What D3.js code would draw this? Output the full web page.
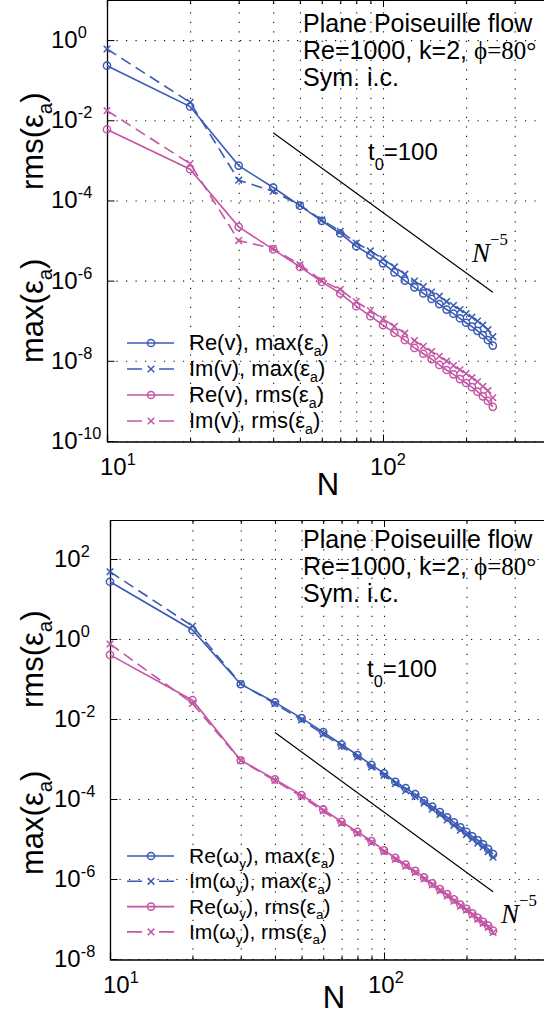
<!DOCTYPE html>
<html><head><meta charset="utf-8">
<script src="https://cdn.jsdelivr.net/npm/d3@7"></script>
<style>body{margin:0;background:#fff;overflow:hidden} svg{display:block}</style>
</head><body>
<svg id="c" width="544" height="1016"></svg>
<script>
// ---------- data ----------
const N = [10,20,30,40,50,60,70,80,90,100,110,120,130,140,150,160,170,180,190,200,210,220,230,240,250];

// top panel: v
const reV_max = [2.3e-1,2.2e-2,7.4e-4,2.1e-4,7.4e-5,3.1e-5,1.5e-5,7.2e-6,4.4e-6,2.7e-6,1.6e-6,1.0e-6,6.8e-7,4.8e-7,3.5e-7,2.6e-7,1.9e-7,1.5e-7,1.15e-7,8.9e-8,7.1e-8,5.6e-8,4.4e-8,3.3e-8,2.4e-8];
const imV_max = [6.0e-1,2.8e-2,3.2e-4,1.7e-4,7.6e-5,3.3e-5,1.7e-5,8.7e-6,5.5e-6,3.5e-6,2.2e-6,1.45e-6,9.8e-7,7.1e-7,5.2e-7,4.1e-7,3.0e-7,2.4e-7,1.9e-7,1.5e-7,1.23e-7,9.8e-8,7.8e-8,6.0e-8,4.0e-8];
const reV_rms = [5.9e-3,6.0e-4,2.2e-5,6.0e-6,2.2e-6,9.3e-7,4.8e-7,2.3e-7,1.3e-7,7.8e-8,5.0e-8,3.3e-8,2.1e-8,1.5e-8,1.1e-8,7.9e-9,5.9e-9,4.6e-9,3.5e-9,2.8e-9,2.2e-9,1.7e-9,1.3e-9,1.0e-9,7.1e-10];
const imV_rms = [1.74e-2,8.3e-4,1.0e-5,6.3e-6,2.5e-6,1.0e-6,6.0e-7,3.0e-7,1.8e-7,1.1e-7,7.2e-8,4.9e-8,3.2e-8,2.3e-8,1.7e-8,1.3e-8,9.8e-9,7.6e-9,6.0e-9,4.8e-9,3.8e-9,3.0e-9,2.3e-9,1.8e-9,1.2e-9];

// bottom panel: omega_y
const reW_max = [27,1.68,7.4e-2,2.6e-2,1.05e-2,4.7e-3,2.3e-3,1.26e-3,7.1e-4,4.4e-4,2.7e-4,1.86e-4,1.32e-4,9.1e-5,6.5e-5,4.7e-5,3.5e-5,2.6e-5,1.95e-5,1.5e-5,1.17e-5,9.3e-6,7.4e-6,5.6e-6,4.2e-6];
const imW_max = [48,2.1,7.6e-2,2.4e-2,9.5e-3,4.2e-3,2.1e-3,1.12e-3,6.3e-4,3.9e-4,2.4e-4,1.62e-4,1.15e-4,7.9e-5,5.6e-5,4.1e-5,3.0e-5,2.2e-5,1.66e-5,1.29e-5,1.0e-5,7.9e-6,6.3e-6,4.8e-6,3.5e-6];
const reW_rms = [0.40,2.95e-2,9.3e-4,3.1e-4,1.26e-4,5.5e-5,2.7e-5,1.5e-5,8.9e-6,5.2e-6,3.4e-6,2.3e-6,1.6e-6,1.1e-6,7.8e-7,5.6e-7,4.2e-7,3.1e-7,2.3e-7,1.8e-7,1.38e-7,1.07e-7,8.5e-8,6.8e-8,5.1e-8];
const imW_rms = [0.75,2.45e-2,9.1e-4,2.9e-4,1.15e-4,5.0e-5,2.45e-5,1.38e-5,8.1e-6,4.8e-6,3.1e-6,2.1e-6,1.45e-6,1.0e-6,7.1e-7,5.1e-7,3.8e-7,2.8e-7,2.1e-7,1.66e-7,1.26e-7,9.8e-8,7.8e-8,6.2e-8,4.6e-8];

// N^-5 reference lines
const refN = [40, 250];
const refTop = [4.9e-3, 5.1e-7];
const refBot = [4.6e-3, 4.8e-7];

// ticks
const xMajor = [10, 100];
const xMajorExp = ["1", "2"];
const xMinor = [20,30,40,50,60,70,80,90,200,300];
const topYTicks = [1e0,1e-2,1e-4,1e-6,1e-8,1e-10];
const topYExp = ["0","-2","-4","-6","-8","-10"];
const botYTicks = [1e2,1e0,1e-2,1e-4,1e-6,1e-8];
const botYExp = ["2","0","-2","-4","-6","-8"];

// ---------- style ----------
const SANS = "'Liberation Sans', Arial, Helvetica, sans-serif";
const SERIF = "'Liberation Serif', 'DejaVu Serif', 'Times New Roman', serif";
const BLUE = "#3a5ab3";
const PINK = "#c355a5";

const svg = d3.select("#c");

function rich(text, parts, fs) {
  let shift = 0;
  parts.forEach(p => {
    const t = text.append("tspan").text(p.t);
    const small = p.s === "sub" || p.s === "sup";
    const target = p.s === "sub" ? fs * (p.d || 0.3) : p.s === "sup" ? -fs * (p.d || 0.42) : 0;
    if (target !== shift) t.attr("dy", target - shift);
    shift = target;
    if (small) t.attr("font-size", fs * (p.k || 0.68));
    if (p.f) t.attr("font-family", p.f);
    if (p.i) t.attr("font-style", "italic");
    if (p.dx) t.attr("dx", p.dx);
  });
}

function panel(cfg) {
  const g = svg.append("g");
  const xr = cfg.x0 + cfg.dec * Math.log10(40);
  const x = d3.scaleLog().domain([10, 400]).range([cfg.x0, xr]);
  const y = d3.scaleLog().domain(cfg.yDomain).range([cfg.yBot, cfg.yTop]);
  const H = cfg.yBot - cfg.yTop;

  // grid (dotted)
  g.append("g").attr("transform", `translate(0,${cfg.yBot})`)
    .call(d3.axisBottom(x).tickValues(xMinor.concat([100])).tickSize(-H).tickFormat(""))
    .call(s => s.select(".domain").remove())
    .call(s => s.selectAll("line").attr("stroke", "#111").attr("stroke-dasharray", "1.2,8.3").attr("stroke-width", 1.1));
  g.append("g").attr("transform", `translate(${cfg.x0},0)`)
    .call(d3.axisLeft(y).tickValues(cfg.yTicks).tickSize(-(560 - cfg.x0)).tickFormat(""))
    .call(s => s.select(".domain").remove())
    .call(s => s.selectAll("line").attr("stroke", "#111").attr("stroke-dasharray", "1.2,8.3").attr("stroke-width", 1.1));

  // axes: bottom major/minor ticks (inward)
  g.append("g").attr("transform", `translate(0,${cfg.yBot + 0.5})`)
    .call(d3.axisBottom(x).tickValues(xMajor).tickSize(-7).tickFormat(""))
    .call(s => s.select(".domain").attr("stroke", "#000").attr("stroke-width", 1.3))
    .call(s => s.selectAll("line").attr("stroke", "#000"));
  g.append("g").attr("transform", `translate(0,${cfg.yBot + 0.5})`)
    .call(d3.axisBottom(x).tickValues(xMinor).tickSize(-4).tickFormat(""))
    .call(s => s.select(".domain").remove())
    .call(s => s.selectAll("line").attr("stroke", "#000"));
  // top border with ticks
  g.append("g").attr("transform", `translate(0,${cfg.topLine})`)
    .call(d3.axisTop(x).tickValues(xMajor).tickSize(-7).tickFormat(""))
    .call(s => s.select(".domain").attr("stroke", "#000").attr("stroke-width", 1.2))
    .call(s => s.selectAll("line").attr("stroke", "#000"));
  g.append("g").attr("transform", `translate(0,${cfg.topLine})`)
    .call(d3.axisTop(x).tickValues(xMinor).tickSize(-4).tickFormat(""))
    .call(s => s.select(".domain").remove())
    .call(s => s.selectAll("line").attr("stroke", "#000"));
  // left axis
  g.append("g").attr("transform", `translate(${cfg.x0 + 0.5},0)`)
    .call(d3.axisLeft(y).tickValues(cfg.yTicks).tickSize(-7).tickFormat(""))
    .call(s => s.select(".domain").attr("stroke", "#000").attr("stroke-width", 1.3).attr("d", `M0,${cfg.topLine}V${cfg.yBot + 0.5}`))
    .call(s => s.selectAll("line").attr("stroke", "#000"));

  // x tick labels
  xMajor.forEach((v, i) => {
    const t = g.append("text").attr("x", x(v) + cfg.xLabDx[i]).attr("y", cfg.yBot + 34)
      .attr("font-family", SANS).attr("font-size", 24).attr("text-anchor", "start");
    rich(t, [{t: "10"}, {t: xMajorExp[i], s: "sup", d: 0.42, k: 0.68}], 24);
  });
  // y tick labels
  cfg.yTicks.forEach((v, i) => {
    const t = g.append("text").attr("x", cfg.x0 - 56).attr("y", y(v) + 8)
      .attr("font-family", SANS).attr("font-size", 24);
    rich(t, [{t: "10"}, {t: cfg.yExp[i], s: "sup", d: 0.42, k: 0.68}], 24);
  });

  // axis labels
  g.append("text").attr("x", cfg.nX).attr("y", cfg.nY).attr("text-anchor", "middle")
    .attr("font-family", SANS).attr("font-size", 31).text("N");
  cfg.yLabels.forEach(l => {
    const t = g.append("text").attr("transform", `translate(${l[1]},${l[2]}) rotate(-90)`)
      .attr("font-family", SANS).attr("font-size", 31);
    rich(t, [{t: l[0] + "(ε"}, {t: "a", s: "sub", d: 0.28, k: 0.66}, {t: ")"}], 31);
  });

  // N^-5 reference line
  g.append("path").datum(refN.map((n, i) => [n, cfg.ref[i]]))
    .attr("d", d3.line().x(d => x(d[0])).y(d => y(d[1])))
    .attr("fill", "none").attr("stroke", "#000").attr("stroke-width", 1.2);

  // series
  cfg.series.forEach(s => {
    const pts = N.map((n, i) => [n, s.v[i]]);
    g.append("path").datum(pts)
      .attr("d", d3.line().x(d => x(d[0])).y(d => y(d[1])))
      .attr("fill", "none").attr("stroke", s.c).attr("stroke-width", 1.6)
      .attr("stroke-dasharray", s.dash ? "11,6" : null);
    const m = g.append("g");
    pts.forEach(d => drawMarker(m, x(d[0]), y(d[1]), s.m, s.c));
  });

  // legend (no box)
  cfg.series.forEach((s, i) => {
    const ly = cfg.legY + i * cfg.legDy;
    g.append("line").attr("x1", 127).attr("x2", 174).attr("y1", ly).attr("y2", ly)
      .attr("stroke", s.c).attr("stroke-width", 1.6)
      .attr("stroke-dasharray", s.dash ? "15,17" : null);
    drawMarker(g, 151, ly, s.m, s.c);
    const t = g.append("text").attr("x", 189).attr("y", ly + 7)
      .attr("font-family", SANS).attr("font-size", cfg.legFs);
    rich(t, s.label, cfg.legFs);
  });

  // annotation text
  cfg.title.forEach((line, i) => {
    const t = g.append("text").attr("x", 303).attr("y", cfg.titleY + i * 27)
      .attr("font-family", SANS).attr("font-size", 25);
    rich(t, line, 25);
  });
  const t0 = g.append("text").attr("x", cfg.t0[0]).attr("y", cfg.t0[1])
    .attr("font-family", SANS).attr("font-size", 24);
  rich(t0, [{t: "t"}, {t: "0", s: "sub", d: 0.4, k: 0.68}, {t: "=100"}], 24);
  const nl = g.append("text").attr("x", cfg.nlab[0]).attr("y", cfg.nlab[1])
    .attr("font-family", SERIF).attr("font-size", 27);
  rich(nl, [{t: "N", i: true}, {t: "−5", s: "sup", d: 0.62, k: 0.62}], 27);
}

function drawMarker(g, cx, cy, type, c) {
  if (type === "o") {
    g.append("circle").attr("cx", cx).attr("cy", cy).attr("r", 3.6)
      .attr("fill", "none").attr("stroke", c).attr("stroke-width", 1.5);
  } else {
    const r = 3.3;
    g.append("path").attr("d", `M${cx - r},${cy - r}L${cx + r},${cy + r}M${cx - r},${cy + r}L${cx + r},${cy - r}`)
      .attr("stroke", c).attr("stroke-width", 1.5);
  }
}

const epsA = [{t: "(ε"}, {t: "a", s: "sub", d: 0.25, k: 0.64}, {t: ")"}];
function lab(re, sym, ysub, kind) {
  const parts = [{t: re + "(" + sym}];
  if (ysub) { parts.push({t: "y", s: "sub", d: 0.22, k: 0.64}); parts.push({t: "), " + kind}); }
  else parts.push({t: "), " + kind});
  return parts.concat(epsA);
}

const titleLines = [
  [{t: "Plane Poiseuille flow"}],
  [{t: "Re=1000, k=2, "}, {t: "ϕ=80°", f: SERIF}],
  [{t: "Sym. i.c."}]
];

panel({
  x0: 107, dec: 276, yTop: 0, yBot: 441, topLine: 0, yDomain: [1e-10, 1e1],
  yTicks: topYTicks, yExp: topYExp, xLabDx: [-7, -13],
  nX: 328, nY: 495,
  yLabels: [["rms", 43, 190], ["max", 43, 363]],
  ref: refTop,
  series: [
    {v: reV_max, c: BLUE, m: "o", dash: false, label: lab("Re", "v", false, "max")},
    {v: imV_max, c: BLUE, m: "x", dash: true, label: lab("Im", "v", false, "max")},
    {v: reV_rms, c: PINK, m: "o", dash: false, label: lab("Re", "v", false, "rms")},
    {v: imV_rms, c: PINK, m: "x", dash: true, label: lab("Im", "v", false, "rms")}
  ],
  legY: 343, legDy: 26, legFs: 22,
  title: titleLines, titleY: 32,
  t0: [368, 160], nlab: [472, 262]
});

panel({
  x0: 110, dec: 274, yTop: 519, yBot: 959, topLine: 520, yDomain: [1e-8, 1e3],
  yTicks: botYTicks, yExp: botYExp, xLabDx: [-7, -16],
  nX: 334, nY: 1008,
  yLabels: [["rms", 43, 708], ["max", 43, 875]],
  ref: refBot,
  series: [
    {v: reW_max, c: BLUE, m: "o", dash: false, label: lab("Re", "ω", true, "max")},
    {v: imW_max, c: BLUE, m: "x", dash: true, label: lab("Im", "ω", true, "max")},
    {v: reW_rms, c: PINK, m: "o", dash: false, label: lab("Re", "ω", true, "rms")},
    {v: imW_rms, c: PINK, m: "x", dash: true, label: lab("Im", "ω", true, "rms")}
  ],
  legY: 856, legDy: 25.3, legFs: 21,
  title: titleLines, titleY: 548,
  t0: [367, 677], nlab: [501, 923]
});
</script>
</body></html>
